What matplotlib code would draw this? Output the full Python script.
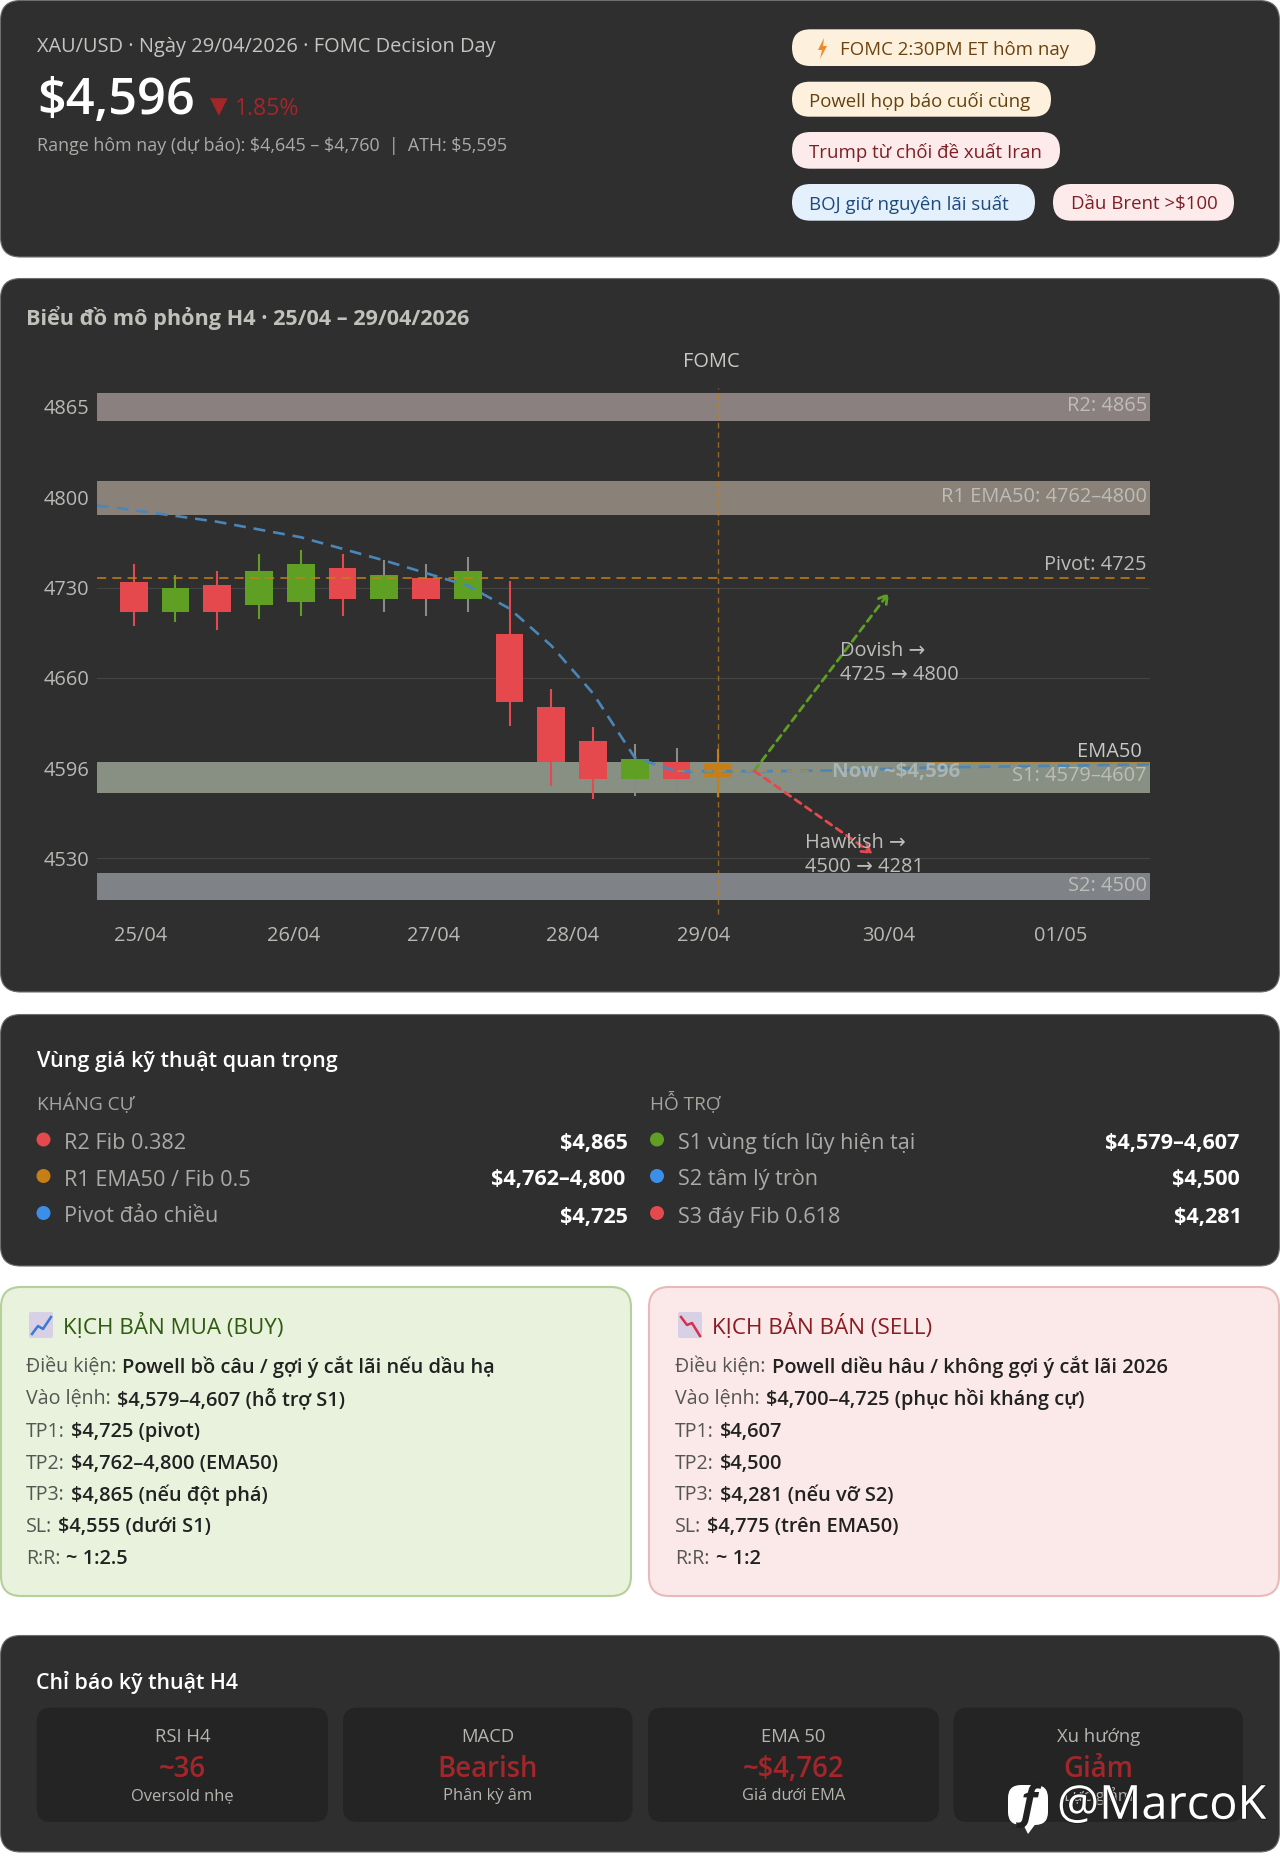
import numpy as np
import matplotlib
matplotlib.use("Agg")
import matplotlib.pyplot as plt
import matplotlib.patheffects as pe
from matplotlib.patches import FancyBboxPatch, Circle, Polygon

plt.rcParams['font.family'] = ['Open Sans', 'Noto Sans', 'DejaVu Sans']

W, H = 1280, 1873

# chart data (prices)
y_ticks = [4530, 4596, 4660, 4730, 4800, 4865]
x_ticks = [0.17, 3.84, 7.17, 10.5, 13.66, 18.07, 22.2]
x_labels = ['25/04', '26/04', '27/04', '28/04', '29/04', '30/04', '01/05']

opens = [4734.6, 4711.2, 4732.1, 4716.1, 4719.0, 4745.3, 4721.5, 4737.5, 4721.5,
         4694.1, 4639.5, 4615.2, 4588.3, 4600.2, 4589.3]
closes = [4711.2, 4729.3, 4711.2, 4742.8, 4748.5, 4721.5, 4740.0, 4721.5, 4742.8,
          4642.8, 4600.5, 4588.3, 4602.8, 4588.3, 4599.2]
highs = [4748.5, 4740.0, 4742.8, 4755.9, 4758.8, 4755.9, 4751.0, 4748.5, 4753.5,
         4735.0, 4651.9, 4625.2, 4612.9, 4610.6, 4609.9]
lows = [4700.1, 4703.0, 4697.3, 4705.5, 4708.0, 4708.0, 4711.2, 4708.0, 4711.2,
        4625.6, 4583.3, 4573.2, 4575.6, 4579.6, 4575.2]

ema_x = [-0.88, 0, 2, 4, 6, 8, 9, 10, 11, 12, 13, 14, 15, 17, 19, 24.34]
ema_y = [4793.6, 4790, 4781, 4769, 4751, 4731.4, 4713.7, 4685, 4649, 4603.5,
         4593.7, 4593.7, 4593.7, 4594.4, 4596.4, 4598.6]

bands = [(4855, 4875), (4786.1, 4812), (4577.9, 4600.5), (4499.5, 4519.6)]
pivot_line = 4737.5
fomc_x = 14
arrow_start = (14.86, 4594)
dovish_end = (18.09, 4726)
hawkish_end = (17.7, 4533.4)

levels_res = [('R2 Fib 0.382', '$4,865'), ('R1 EMA50 / Fib 0.5', '$4,762–4,800'), ('Pivot đảo chiều', '$4,725')]
levels_sup = [('S1 vùng tích lũy hiện tại', '$4,579–4,607'), ('S2 tâm lý tròn', '$4,500'), ('S3 đáy Fib 0.618', '$4,281')]

buy_rows = [('Điều kiện:', 'Powell bồ câu / gợi ý cắt lãi nếu dầu hạ'),
            ('Vào lệnh:', '$4,579–4,607 (hỗ trợ S1)'),
            ('TP1:', '$4,725 (pivot)'),
            ('TP2:', '$4,762–4,800 (EMA50)'),
            ('TP3:', '$4,865 (nếu đột phá)'),
            ('SL:', '$4,555 (dưới S1)'),
            ('R:R:', '~ 1:2.5')]
sell_rows = [('Điều kiện:', 'Powell diều hâu / không gợi ý cắt lãi 2026'),
             ('Vào lệnh:', '$4,700–4,725 (phục hồi kháng cự)'),
             ('TP1:', '$4,607'),
             ('TP2:', '$4,500'),
             ('TP3:', '$4,281 (nếu vỡ S2)'),
             ('SL:', '$4,775 (trên EMA50)'),
             ('R:R:', '~ 1:2')]

ind_names = ['RSI H4', 'MACD', 'EMA 50', 'Xu hướng']
ind_values = ['~36', 'Bearish', '~$4,762', 'Giảm']
ind_notes = ['Oversold nhẹ', 'Phân kỳ âm', 'Giá dưới EMA', 'Lực giảm']

# colours
PANEL = '#2f2f2f'
RED = '#e5484d'
GREEN = '#5f9f24'
AMBER = '#c67f15'
BLUE = '#3b8fe8'
DARKRED = '#a3262b'
GREY = '#8a8a86'
candle_cols = [RED, GREEN, RED, GREEN, GREEN, RED, GREEN, RED, GREEN, RED, RED, RED, GREEN, RED, AMBER]
wick_cols = [RED, GREEN, RED, GREEN, GREEN, RED, GREY, GREY, GREY, RED, RED, RED, GREY, GREY, AMBER]
band_cols = ['#8a8080', '#8a8278', '#879083', '#7f8287']


def pt(px):
    return px * 0.72


fig = plt.figure(figsize=(W / 100, H / 100), dpi=100, facecolor='white')
bg = fig.add_axes([0, 0, 1, 1], zorder=0)
fg = fig.add_axes([0, 0, 1, 1], zorder=3)
for a in (bg, fg):
    a.set_xlim(0, W)
    a.set_ylim(H, 0)
    a.axis('off')
    a.patch.set_alpha(0)


def box(x0, y0, x1, y1, color, r=20, edge='none', lw=0, ax=bg, z=1):
    ax.add_patch(FancyBboxPatch((x0 + r, y0 + r), x1 - x0 - 2 * r, y1 - y0 - 2 * r,
                                boxstyle='round,pad=%f,rounding_size=%f' % (r, r),
                                fc=color, ec=edge, lw=lw, zorder=z))


def txt(x, y, s, px=19, color='#c5c5c0', ha='left', weight='normal', **kw):
    return fg.text(x, y + 1, s, fontsize=pt(px), color=color, ha=ha, va='center',
                   fontweight=weight, **kw)


# panels
for y0, y1 in [(0, 257), (278, 992), (1014, 1266), (1635, 1852)]:
    box(0.5, y0 + 0.5, W - 0.5, y1, PANEL, edge='#6e6e6e', lw=0.8)
box(1, 1287, 631, 1596, '#e8f2dd', edge='#b5d09a', lw=1.5)
box(649, 1287, 1279, 1596, '#fbe9e9', edge='#e9b9b9', lw=1.5)

# header
txt(37, 45.5, 'XAU/USD · Ngày 29/04/2026 · FOMC Decision Day', 20)
txt(37, 99.5, '$4,596', 50.5, 'white', weight='semibold')
txt(210, 106, '▼', 23, DARKRED, family=['DejaVu Sans'])
txt(235, 107.5, '1.85%', 23, DARKRED)
txt(37, 145, 'Range hôm nay (dự báo): $4,645 – $4,760  |  ATH: $5,595', 17.9, '#aaaaa6')

pills = [(792, 1095.5, 29.3, 66, '#fdf0dc', '#6b4310', 840, 'FOMC 2:30PM ET hôm nay'),
         (792, 1051, 81.7, 116.7, '#fdf0dc', '#63420f', 809, 'Powell họp báo cuối cùng'),
         (792, 1060, 132, 168.7, '#fdeaea', '#7d1f26', 809, 'Trump từ chối đề xuất Iran'),
         (792, 1035, 184, 220.7, '#e4f0fc', '#1c4a80', 809, 'BOJ giữ nguyên lãi suất'),
         (1053, 1234, 184, 220.7, '#fdeaea', '#7d1f26', 1071, 'Dầu Brent >$100')]
for x0, x1, y0, y1, fc, tc, tx, s in pills:
    box(x0, y0, x1, y1, fc, r=(y1 - y0) / 2, z=2)
    txt(tx, (y0 + y1) / 2 + 1, s, 18.7, tc, weight='medium')
fg.add_patch(Polygon([(824, 38), (818, 50), (822, 50), (820, 59), (827, 46), (823, 46)], fc='#f08a2c', ec='none'))

# chart
price_anchor = [4400, 4530, 4596, 4660, 4730, 4800, 4865, 5000]
row_anchor = [-130 / 66, 0, 1, 2, 3, 4, 5, 5 + 135 / 65]


def to_row(p):
    return np.interp(p, price_anchor, row_anchor)


def to_price(r):
    return np.interp(r, row_anchor, price_anchor)


ax = fig.add_axes([97 / W, 1 - 920 / H, (1150 - 97) / W, 540 / H], zorder=2)
ax.patch.set_alpha(0)
ax.set_yscale('function', functions=(to_row, to_price))
ax.set_xlim(-0.88, 24.34)
ax.set_ylim(4485, 4884.4)
for s in ax.spines.values():
    s.set_visible(False)
ax.set_yticks(y_ticks)
ax.set_yticklabels([str(v) for v in y_ticks])
ax.set_xticks(x_ticks)
ax.set_xticklabels(x_labels)
ax.minorticks_off()
ax.tick_params(length=0, labelsize=pt(20), labelcolor='#b8b8b4')
ax.tick_params(axis='y', pad=pt(8))
ax.tick_params(axis='x', pad=pt(6))

ax.set_axisbelow(True)
ax.grid(axis='y', color='#444442', lw=0.8)
for (lo, hi), c in zip(bands, band_cols):
    ax.axhspan(lo, hi, color=c, lw=0, zorder=1)

for i in range(len(opens)):
    ax.plot([i, i], [lows[i], highs[i]], color=wick_cols[i], lw=1.5, zorder=3, solid_capstyle='butt')
    ax.bar(i, abs(closes[i] - opens[i]), bottom=min(opens[i], closes[i]), width=0.665,
           color=candle_cols[i], zorder=4)

ax.plot(ema_x, ema_y, color='#4a86b8', lw=1.9, dashes=(4.5, 3), zorder=5)
ax.axhline(pivot_line, color=AMBER, lw=1.1, dashes=(6, 4), zorder=5)
ax.plot([13, 16.2], [4594, 4594], color='#b08a50', lw=1.1, dashes=(5, 4), zorder=5)
ax.plot([19.1, 24.34], [4600.3, 4600.3], color=AMBER, lw=0.8, alpha=0.6, zorder=5)
ax.plot([fomc_x, fomc_x], [4489.7, 4878.7], color=AMBER, lw=1, dashes=(4, 3), alpha=0.7, zorder=5)
ax.annotate('', xy=dovish_end, xytext=arrow_start,
            arrowprops=dict(arrowstyle='->,head_length=0.6,head_width=0.35', color=GREEN, lw=2, ls=(0, (2.5, 2)),
                            shrinkA=0, shrinkB=0), zorder=6)
ax.annotate('', xy=hawkish_end, xytext=arrow_start,
            arrowprops=dict(arrowstyle='->,head_length=0.6,head_width=0.35', color=RED, lw=2, ls=(0, (2.5, 2)),
                            shrinkA=0, shrinkB=0), zorder=6)

# chart labels
txt(26.5, 317, 'Biểu đồ mô phỏng H4 · 25/04 – 29/04/2026', 21.65, '#c2c0ba', weight='bold')
txt(711, 361, 'FOMC', 20, '#c8c8c4', ha='center')
LBL = '#bdbcb8'
for y, s in [(404.5, 'R2: 4865'), (496, 'R1 EMA50: 4762–4800'), (564.5, 'Pivot: 4725'),
             (775, 'S1: 4579–4607'), (884.5, 'S2: 4500')]:
    txt(1147, y, s, 20, LBL, ha='right')
txt(1142, 751, 'EMA50', 20, '#c8c8c4', ha='right')
txt(840, 650, 'Dovish →', 20, LBL)
txt(840, 674, '4725 → 4800', 20, LBL)
txt(805, 841.5, 'Hawkish →', 20, LBL)
txt(805, 866, '4500 → 4281', 20, LBL)
txt(832, 770.5, 'Now ~$4,596', 20.5, '#a9b5b5', weight='bold')

# levels
txt(37, 1060.5, 'Vùng giá kỹ thuật quan trọng', 21.5, 'white', weight='semibold')
txt(37, 1102.5, 'KHÁNG CỰ', 19, '#a5a5a0')
txt(650.5, 1101.5, 'HỖ TRỢ', 19, '#a5a5a0')
row_y = [1142.5, 1179, 1216]
for col, rows, dots, dot_x, tx, rights in [
        (0, levels_res, [RED, AMBER, BLUE], 43.5, 64.5, [628, 625, 628]),
        (1, levels_sup, [GREEN, BLUE, RED], 657, 678, [1239, 1240, 1242])]:
    for j, (name, val) in enumerate(rows):
        fg.add_patch(Circle((dot_x, row_y[j] - 3), 7, fc=dots[j], ec='none'))
        txt(tx, row_y[j], name, 21.7, '#aaaaa6')
        txt(rights[j], row_y[j], val, 21.6, 'white', ha='right', weight='bold')

# scenario cards
card_y = [1365.7, 1398.3, 1431, 1462.8, 1494.5, 1525.7, 1558.5]
txt(63, 1325, 'KỊCH BẢN MUA (BUY)', 22.4, '#2f5c10', weight='medium')
txt(712, 1325, 'KỊCH BẢN BÁN (SELL)', 22.4, '#8a1c22', weight='medium')
for ix, line_c, trend in [(29, '#3b78d8', [(3, 22), (9, 14), (14, 17), (22, 5)]),
                          (678, '#d8304a', [(3, 5), (9, 13), (14, 11), (22, 24)])]:
    fg.add_patch(FancyBboxPatch((ix + 1, 1313), 22, 24, boxstyle='round,pad=1,rounding_size=2', fc='#d8d0e4', ec='none'))
    fg.plot([ix + a for a, b in trend], [1312 + b for a, b in trend], color=line_c, lw=1.8)
fig.canvas.draw()
renderer = fig.canvas.get_renderer()
for x0, rows in [(26, buy_rows), (675, sell_rows)]:
    for y, (a, b) in zip(card_y, rows):
        t = txt(x0, y, a, 19.6, '#555552')
        bb = t.get_window_extent(renderer)
        txt(bb.x1 + 6, y, b, 19.95, '#222222', weight='semibold')

# indicators
txt(36.5, 1681.5, 'Chỉ báo kỹ thuật H4', 21.4, 'white', weight='semibold')
card_x = [(36.7, 328), (343, 632.6), (648, 939), (953.5, 1243)]
for (x0, x1), a, b, c in zip(card_x, ind_names, ind_values, ind_notes):
    box(x0, 1707.7, x1, 1822, '#242424', r=14, z=2)
    cx = (x0 + x1) / 2
    txt(cx, 1736, a, 18.5, '#b5b5b0', ha='center')
    txt(cx, 1768.5, b, 27.5, DARKRED, ha='center', weight='semibold')
    txt(cx, 1795.5, c, 16.5, '#b5b5b0', ha='center')

# watermark
stroke = [pe.withStroke(linewidth=1.6, foreground='#222222')]
box(1008, 1785, 1048, 1825, 'white', r=13, ax=fg, z=8)
fg.add_patch(Polygon([(1022, 1822), (1037, 1822), (1028, 1834)], fc='white', ec='none', zorder=8))
fg.text(1029, 1805, 'f', fontsize=pt(44), color='#222222', fontweight='bold', ha='center', va='center',
        style='italic', zorder=9)
fg.text(1057, 1806, '@MarcoK', fontsize=pt(47), color='white', ha='left', va='center', zorder=9, path_effects=stroke)

fig.savefig('out.png', dpi=100, facecolor='white')
